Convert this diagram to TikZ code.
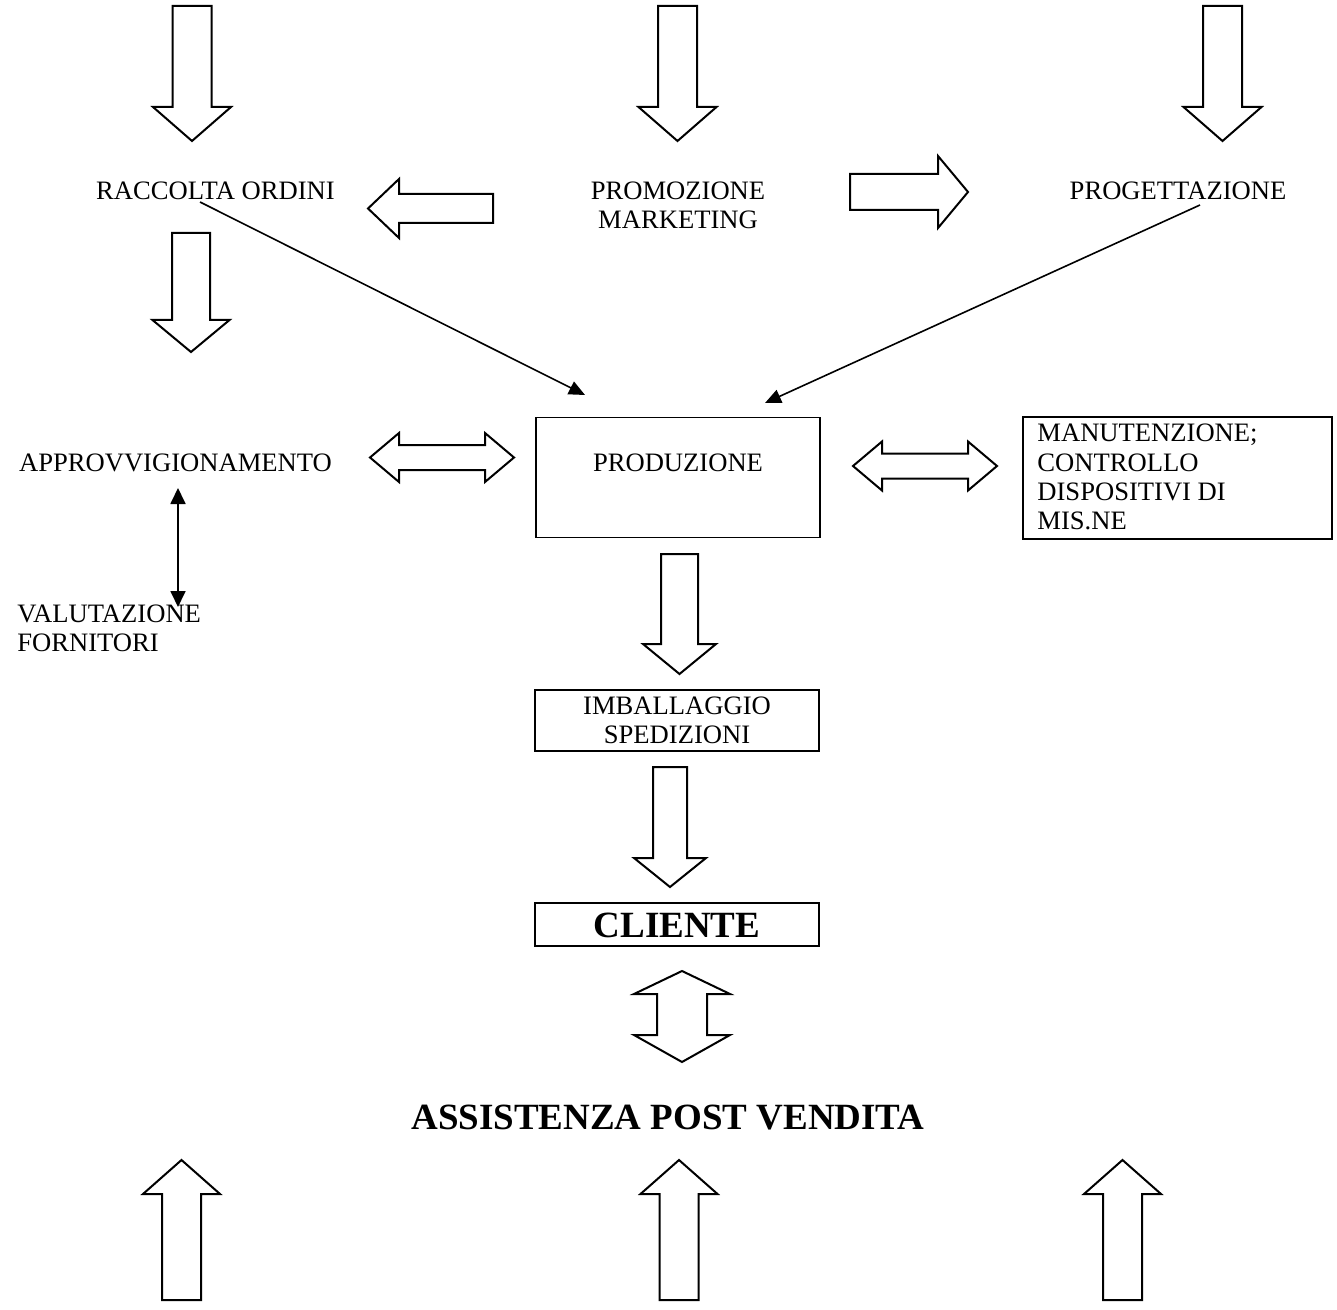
\documentclass[tikz,border=0pt]{standalone}
\usepackage{fontspec}
\setmainfont{Liberation Serif}
\usetikzlibrary{arrows.meta}
\tikzset{
  blk/.style={draw=black, line width=1pt, line join=miter, fill=white},
  lbl/.style={inner sep=0pt, font=\fontsize{13.3}{14.6}\selectfont, align=center},
  biglbl/.style={inner sep=0pt, font=\fontsize{18.5}{20}\selectfont\bfseries},
  boxnode/.style={draw=black, line width=0.8pt, inner sep=0pt},
  thin/.style={line width=0.8pt, -{Triangle[length=8pt,width=7pt]}},
  thinboth/.style={line width=0.9pt, {Triangle[length=8pt,width=7.5pt]}-{Triangle[length=8pt,width=7.5pt]}}
}
% vertical single block arrow: cx, base y, head-base y, tip y, shaft half, head half
\newcommand\blkV[6]{%
  \draw[blk] ({#1-#5},#2) -- ({#1+#5},#2) -- ({#1+#5},#3) -- ({#1+#6},#3) -- (#1,#4) -- ({#1-#6},#3) -- ({#1-#5},#3) -- cycle;}
% horizontal single block arrow: cy, base x, head-base x, tip x, shaft half, head half
\newcommand\blkH[6]{%
  \draw[blk] (#2,{#1-#5}) -- (#2,{#1+#5}) -- (#3,{#1+#5}) -- (#3,{#1+#6}) -- (#4,#1) -- (#3,{#1-#6}) -- (#3,{#1-#5}) -- cycle;}
% horizontal double block arrow: cy, left tip, left head base, right head base, right tip, shaft half, head half
\newcommand\blkHH[7]{%
  \draw[blk] (#2,#1) -- (#3,{#1-#7}) -- (#3,{#1-#6}) -- (#4,{#1-#6}) -- (#4,{#1-#7}) -- (#5,#1) -- (#4,{#1+#7}) -- (#4,{#1+#6}) -- (#3,{#1+#6}) -- (#3,{#1+#7}) -- cycle;}
% vertical double block arrow: cx, top tip, top head base, bottom head base, bottom tip, shaft half, head half
\newcommand\blkVV[7]{%
  \draw[blk] (#1,#2) -- ({#1+#7},#3) -- ({#1+#6},#3) -- ({#1+#6},#4) -- ({#1+#7},#4) -- (#1,#5) -- ({#1-#7},#4) -- ({#1-#6},#4) -- ({#1-#6},#3) -- ({#1-#7},#3) -- cycle;}
\begin{document}
\begin{tikzpicture}[x=0.5pt,y=-0.5pt]
\useasboundingbox (0,0) rectangle (1337,1310);

% top arrows
\blkV{192}{6}{107}{141}{19.5}{39}
\blkV{677.5}{6}{107}{141}{19.5}{39}
\blkV{1222.5}{6}{107}{141}{19.5}{39}

% first row labels
\node[lbl] (raccolta) at (215.5,191) {RACCOLTA ORDINI};
\node[lbl] (promo) at (678,205.5) {PROMOZIONE\\MARKETING};
\node[lbl] (prog) at (1178,191) {PROGETTAZIONE};

\blkH{208.5}{493}{399}{368}{14.5}{29.5}
\blkH{192}{850}{938}{968}{18}{36}

% arrow below raccolta
\blkV{191}{233}{320}{352}{19}{38.5}

% production box
\node[boxnode, minimum width=142pt, minimum height=60pt] (prod) at (678,477.5) {};
\node[lbl] (prodtxt) at (678,463) {PRODUZIONE};

% thin connectors
\coordinate (r0) at (200,202);
\coordinate (r1) at (585,395);
\coordinate (p0) at (1200,205);
\coordinate (p1) at (765,403);
\draw[thin] (r0) -- (r1);
\draw[thin] (p0) -- (p1);

% approvvigionamento
\node[lbl] (approv) at (175.5,463) {APPROVVIGIONAMENTO};
\blkHH{457.5}{370}{399}{485}{514}{12.5}{24.5}

% manutenzione
\node[boxnode, minimum width=154.5pt, minimum height=61pt] (manbox) at (1177.5,478) {};
\node[lbl, align=left, anchor=west] (mantxt) at (1037,477) {MANUTENZIONE;\\CONTROLLO\\DISPOSITIVI DI\\MIS.NE};
\blkHH{466}{853}{882}{968}{997}{12.5}{24.5}

% valutazione fornitori
\coordinate (v0) at (178,488);
\coordinate (v1) at (178,607);
\draw[thinboth] (v0) -- (v1);
\node[lbl, align=left, anchor=west] (valut) at (17,628.5) {VALUTAZIONE\\FORNITORI};

% production -> imballaggio
\blkV{679.5}{554}{644}{674}{18.5}{36.5}
\node[boxnode, minimum width=142pt, minimum height=30.5pt] (imbbox) at (677,720.5) {};
\node[lbl] (imbtxt) at (677,720) {IMBALLAGGIO\\SPEDIZIONI};

\blkV{670}{767}{858}{887}{17}{36}

% cliente
\node[boxnode, minimum width=142pt, minimum height=21.5pt] (cliente) at (677,924.5) {};
\node[biglbl] (clitxt) at (677,925) {CLIENTE};

\blkVV{682}{971}{994}{1035}{1062}{25}{48}

\node[biglbl] (assist) at (668,1118) {ASSISTENZA POST VENDITA};

% bottom arrows
\blkV{181.5}{1300}{1194}{1160}{19.5}{38.5}
\blkV{679}{1300}{1194}{1160}{19.5}{38.5}
\blkV{1122.5}{1300}{1194}{1160}{19.5}{38.5}
\end{tikzpicture}
\end{document}
